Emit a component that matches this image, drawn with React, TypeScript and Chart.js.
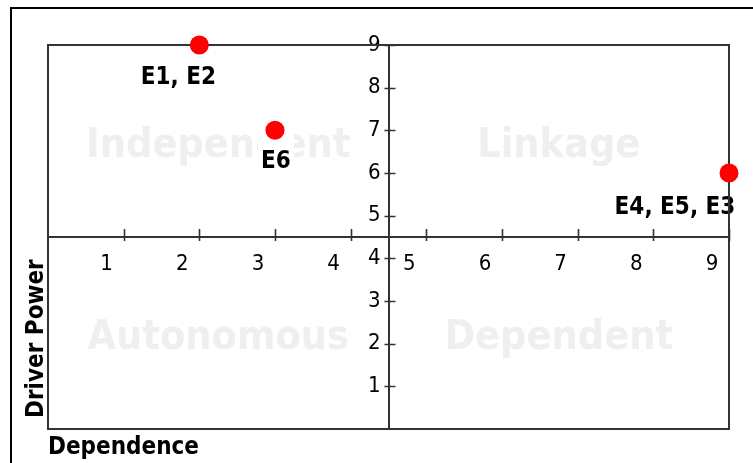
import React, { useEffect, useRef } from 'react';
import { Chart, registerables } from 'chart.js';

Chart.register(...registerables);

// ---- data ----
const pointLabels = ['E1, E2', 'E6', 'E4, E5, E3'];
const dependence = [2, 3, 9];
const driverPower = [9, 7, 6];
const axisMin = 0;
const axisMax = 9;
const axisMid = 4.5;
const quadrantNames = ['Independent', 'Linkage', 'Autonomous', 'Dependent'];
const xTitle = 'Dependence';
const yTitle = 'Driver Power';

// ---- layout / style ----
const labelShiftX = [-21, 1, -54];
const labelShiftY = [39, 38, 41];
const FONT = '"DejaVu Sans Condensed", "DejaVu Sans", sans-serif';
const LINE = '#333333';
const Y_LABEL_GAP = '\u2009\u2009';

const decorPlugin = {
  id: 'decor',
  beforeDraw(chart: any) {
    const { ctx, scales } = chart;
    const x = scales.x;
    const y = scales.y;
    ctx.save();
    ctx.fillStyle = '#ffffff';
    ctx.fillRect(0, 0, chart.width, chart.height);
    // outer frame
    ctx.fillStyle = '#000000';
    ctx.fillRect(10, 7, chart.width - 10, 2);
    ctx.fillRect(10, 7, 2, chart.height - 7);

    // quadrant names
    ctx.font = `bold 41px ${FONT}`;
    ctx.fillStyle = '#efefef';
    ctx.textAlign = 'center';
    ctx.textBaseline = 'alphabetic';
    const lowX = (axisMin + axisMid) / 2;
    const highX = (axisMid + axisMax) / 2;
    const quadPos = [
      [lowX, highX],
      [highX, highX],
      [lowX, lowX],
      [highX, lowX],
    ];
    quadrantNames.forEach((name, i) => {
      const px = x.getPixelForValue(quadPos[i][0]);
      const py = y.getPixelForValue(quadPos[i][1]);
      ctx.fillText(name, px, py + 16);
    });

    // data labels with white backing
    ctx.font = `bold 24px ${FONT}`;
    const meta = chart.getDatasetMeta(0);
    meta.data.forEach((pt: any, i: number) => {
      const text = pointLabels[i];
      const w = ctx.measureText(text).width;
      const cx = pt.x + labelShiftX[i];
      const base = pt.y + labelShiftY[i];
      const l = Math.min(cx - w / 2, pt.x - 10) - 3;
      const r = Math.max(cx + w / 2, pt.x + 10) + 3;
      ctx.fillStyle = '#ffffff';
      ctx.fillRect(l, pt.y - 10, r - l, base + 5 - (pt.y - 10));
      ctx.fillStyle = '#000000';
      ctx.textAlign = 'center';
      ctx.fillText(text, cx, base);
    });

    // axis titles
    ctx.fillStyle = '#000000';
    ctx.textAlign = 'left';
    ctx.fillText(xTitle, 48, 454);
    ctx.save();
    ctx.translate(43, 418);
    ctx.rotate(-Math.PI / 2);
    ctx.fillText(yTitle, 0, 0);
    ctx.restore();
    ctx.restore();
  },
  beforeDatasetsDraw(chart: any) {
    const { ctx, chartArea: ca, scales } = chart;
    const x = scales.x;
    const y = scales.y;
    ctx.save();
    ctx.strokeStyle = LINE;
    ctx.lineWidth = 2;
    ctx.strokeRect(ca.left, ca.top, ca.right - ca.left, ca.bottom - ca.top);
    const ax = x.getPixelForValue(axisMid);
    const ay = y.getPixelForValue(axisMid);
    ctx.lineWidth = 1.6;
    ctx.beginPath();
    x.ticks.forEach((t: any) => {
      if (t.value <= axisMin) return;
      const px = Math.round(x.getPixelForValue(t.value)) + 0.5;
      ctx.moveTo(px, ay - 8);
      ctx.lineTo(px, ay + 4);
    });
    y.ticks.forEach((t: any) => {
      if (t.value <= axisMin) return;
      const py = Math.round(y.getPixelForValue(t.value)) + 0.5;
      ctx.moveTo(ax - 4, py);
      ctx.lineTo(ax + 7, py);
    });
    ctx.stroke();
    ctx.restore();
  },
};

export default function App() {
  const ref = useRef<HTMLCanvasElement>(null);
  useEffect(() => {
    if (!ref.current) return;
    const tickFont = { family: FONT, size: 22, weight: 'normal' as const };
    const chart = new Chart(ref.current, {
      type: 'scatter',
      data: {
        datasets: [
          {
            data: dependence.map((d, i) => ({ x: d, y: driverPower[i] })),
            backgroundColor: '#ff0000',
            borderWidth: 0,
            pointRadius: 9.5,
            pointHoverRadius: 9.5,
            clip: false as any,
          },
        ],
      },
      plugins: [decorPlugin],
      options: {
        animation: false,
        responsive: false,
        devicePixelRatio: 1,
        events: [],
        layout: { padding: { left: 48, top: 45, right: 24, bottom: 34 } },
        plugins: { legend: { display: false }, tooltip: { enabled: false } },
        scales: {
          x: {
            type: 'linear',
            min: axisMin,
            max: axisMax,
            position: { y: axisMid } as any,
            grid: { display: false, drawTicks: false, drawOnChartArea: false },
            border: { display: true, color: LINE, width: 2 },
            ticks: {
              stepSize: 1,
              padding: 14,
              labelOffset: -17,
              color: '#000000',
              font: tickFont,
              maxRotation: 0,
              autoSkip: false,
              callback: (v: any) => (v > axisMin ? String(v) : null),
            },
          },
          y: {
            type: 'linear',
            min: axisMin,
            max: axisMax,
            position: { x: axisMid } as any,
            grid: { display: false, drawTicks: false, drawOnChartArea: false },
            border: { display: true, color: LINE, width: 2 },
            ticks: {
              stepSize: 1,
              padding: 10,
              color: '#000000',
              font: tickFont,
              autoSkip: false,
              callback: (v: any) => (v > axisMin ? String(v) + Y_LABEL_GAP : null),
            },
          },
        },
      },
    });
    return () => chart.destroy();
  }, []);
  return (
    <div style={{ position: 'fixed', left: 0, top: 0, width: 753, height: 463, background: '#fff' }}>
      <canvas ref={ref} width={753} height={463} style={{ display: 'block' }} />
    </div>
  );
}
